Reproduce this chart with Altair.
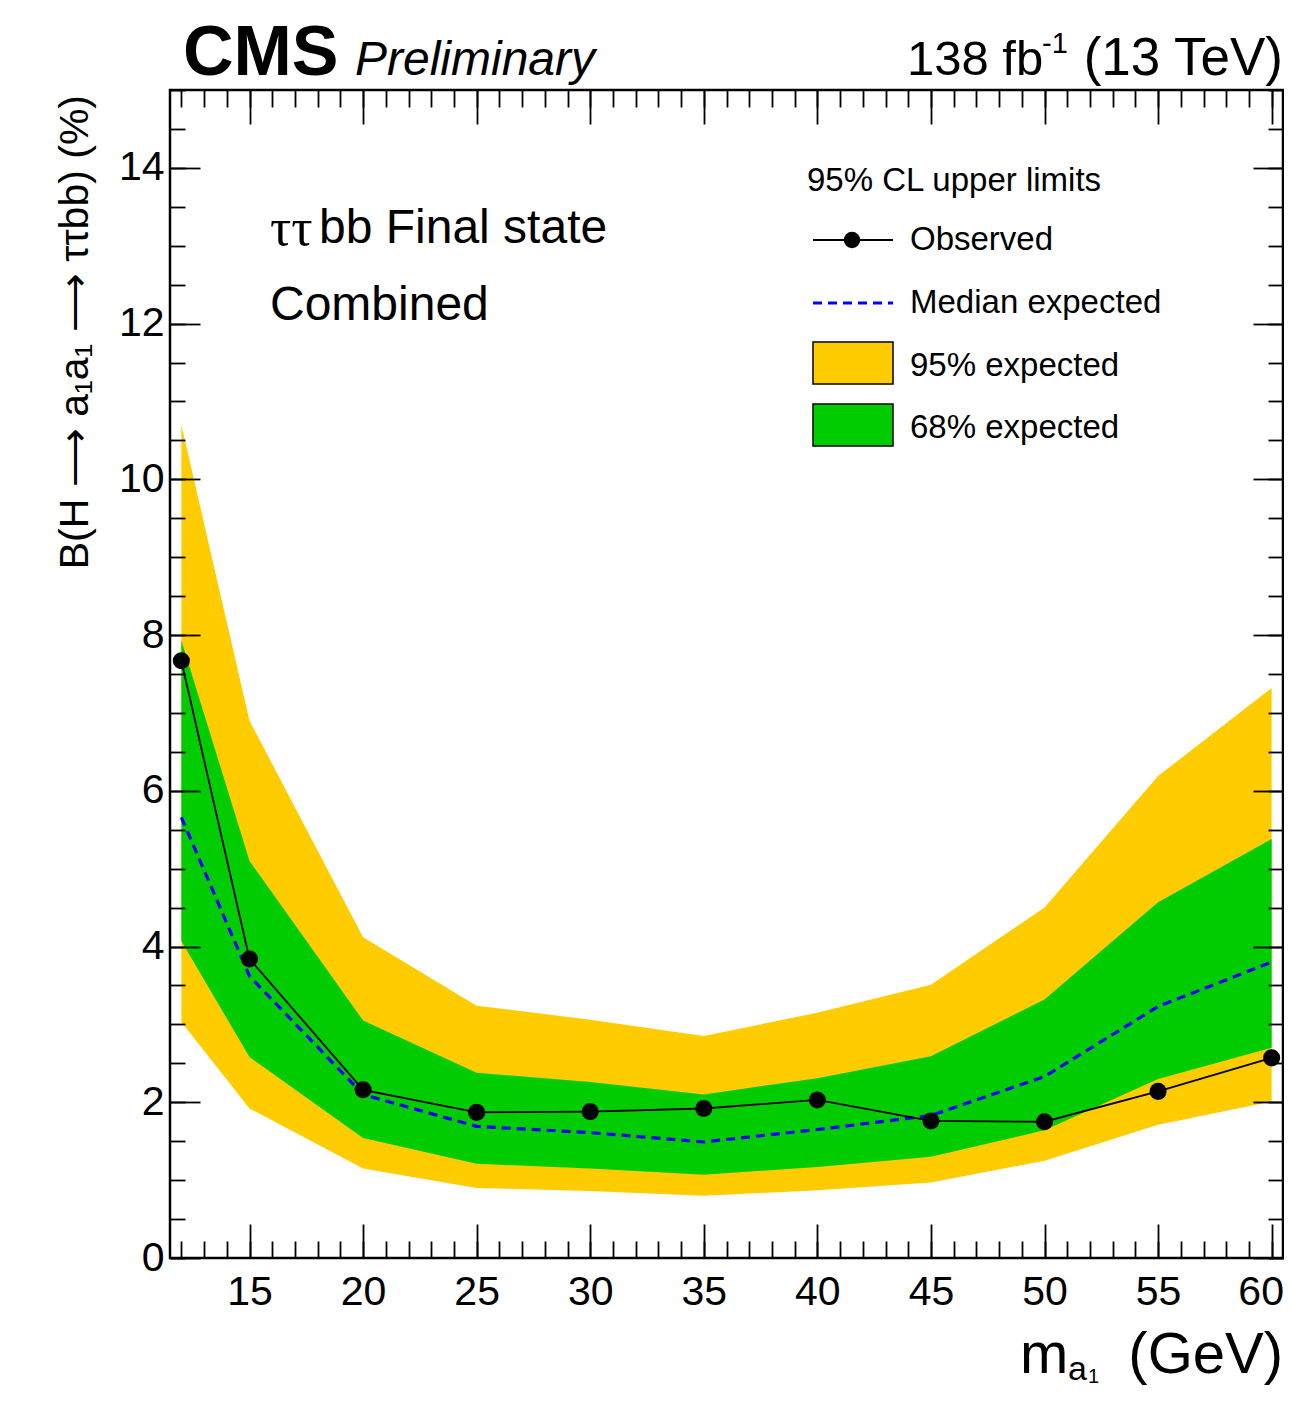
import altair as alt
import pandas as pd

# ---------------- data ----------------
mass = [12, 15, 20, 25, 30, 35, 40, 45, 50, 55, 60]
observed = [7.67, 3.84, 2.16, 1.87, 1.88, 1.92, 2.03, 1.76, 1.75, 2.14, 2.57]
expected = [5.66, 3.62, 2.10, 1.69, 1.61, 1.49, 1.65, 1.83, 2.33, 3.23, 3.80]
lo68 = [4.07, 2.58, 1.54, 1.21, 1.15, 1.07, 1.17, 1.30, 1.64, 2.30, 2.70]
hi68 = [7.93, 5.10, 3.05, 2.38, 2.26, 2.10, 2.31, 2.59, 3.32, 4.57, 5.38]
lo95 = [3.03, 1.92, 1.15, 0.90, 0.86, 0.80, 0.87, 0.97, 1.25, 1.71, 2.01]
hi95 = [10.70, 6.90, 4.12, 3.24, 3.06, 2.85, 3.15, 3.51, 4.50, 6.19, 7.32]

x_major = [15, 20, 25, 30, 35, 40, 45, 50, 55, 60]
x_minor = list(range(12, 61))
y_major = [0, 2, 4, 6, 8, 10, 12, 14]
y_minor = [i * 0.5 for i in range(0, 31)]

legend_labels = ["Observed", "Median expected", "95% expected", "68% expected"]

df = pd.DataFrame({
    "mass": mass, "obs": observed, "exp": expected,
    "lo68": lo68, "hi68": hi68, "lo95": lo95, "hi95": hi95,
})
ONE = pd.DataFrame({"k": [0]})

FONT = "Liberation Sans"
YELLOW = "#FFCC00"
GREEN = "#00CC00"
W, H = 1113, 1168

XS = alt.Scale(domain=[11.5, 60.5], nice=False, zero=False)
YS = alt.Scale(domain=[0, 15], nice=False, zero=False)


def X(field, axis=None):
    if axis is None:
        return alt.X(field, type="quantitative", scale=XS, axis=None)
    return alt.X(field, type="quantitative", scale=XS, axis=axis, title=None)


def Y(field, axis=None):
    if axis is None:
        return alt.Y(field, type="quantitative", scale=YS, axis=None)
    return alt.Y(field, type="quantitative", scale=YS, axis=axis, title=None)


def tick_axis(orient, values, size):
    return alt.Axis(orient=orient, values=values, ticks=True, tickSize=size,
                    offset=-size, tickColor="black", tickWidth=1.8, labels=False,
                    domain=False, grid=False, zindex=1)


def label_axis(orient, values, pad, **kw):
    return alt.Axis(orient=orient, values=values, ticks=False, tickSize=0,
                    domain=False, grid=False, labelFont=FONT, labelFontSize=41,
                    labelColor="black", labelPadding=pad, labelFlush=False,
                    labelOverlap=False, labelBound=False, format="d", **kw)


def axis_layer(xa, ya):
    return alt.Chart(df).mark_point(opacity=0).encode(x=X("mass", xa), y=Y("obs", ya))


def text(s, x, y, size, align="left", baseline="alphabetic", font=FONT, **kw):
    return alt.Chart(ONE).mark_text(text=s, font=font, fontSize=size, align=align,
                                    baseline=baseline, color="black", **kw).encode(
        x=alt.value(x), y=alt.value(y))


# ---------------- data layers ----------------
band95 = alt.Chart(df).mark_area(color=YELLOW, opacity=1).encode(
    x=X("mass"), y=Y("hi95"), y2="lo95")
band68 = alt.Chart(df).mark_area(color=GREEN, opacity=1).encode(
    x=X("mass"), y=Y("hi68"), y2="lo68")
median = alt.Chart(df).mark_line(color="#0000FF", strokeWidth=3.2, strokeDash=[9, 6]).encode(
    x=X("mass"), y=Y("exp"))
obs_line = alt.Chart(df).mark_line(color="black", strokeWidth=1.8).encode(
    x=X("mass"), y=Y("obs"))
obs_pts = alt.Chart(df).mark_point(filled=True, color="black", size=290, opacity=1).encode(
    x=X("mass"), y=Y("obs"))

# ---------------- axes (ROOT style: inside ticks on all four sides) ----------------
last_shift = {"condition": {"test": "datum.value == 60", "value": -11}, "value": 0}
axes = [
    axis_layer(label_axis("bottom", x_major, 14, labelOffset=last_shift),
               label_axis("left", y_major, 6)),
    axis_layer(tick_axis("bottom", x_major, 34), tick_axis("left", y_major, 30)),
    axis_layer(tick_axis("bottom", x_minor, 17), tick_axis("left", y_minor, 15)),
    axis_layer(tick_axis("top", x_major, 34), tick_axis("right", y_major, 30)),
    axis_layer(tick_axis("top", x_minor, 17), tick_axis("right", y_minor, 15)),
]

# ---------------- texts ----------------
texts = [
    text("CMS", 13, -15, 70, fontWeight="bold"),
    text("Preliminary", 185, -15, 48, fontStyle="italic"),
    text("138 fb", 737, -15, 49),
    text("-1", 872, -37, 29),
    text("(13 TeV)", W, -15, 53, align="right"),
    text("ττ", 100, 139, 53, baseline="middle", font="Liberation Serif"),
    text("bb Final state", 149, 139, 48, baseline="middle"),
    text("Combined", 100, 216, 48, baseline="middle"),
    # x title  m_{a_1} (GeV)
    text("m", 850, 1283, 58),
    text("a", 898, 1290, 34),
    text("1", 918, 1293, 20),
    text("(GeV)", W, 1283, 58, align="right"),
    # y title
    text("B(H ⟶ a₁a₁ ⟶ ττbb) (%)", -82, 5, 41, align="right", angle=270),
]

# ---------------- legend ----------------
LX0, LX1, LXM, LT = 643, 723, 682, 740
legend = [
    text("95% CL upper limits", 637, 91, 33, baseline="middle"),
    alt.Chart(ONE).mark_rule(color="black", strokeWidth=1.8).encode(
        x=alt.value(LX0), x2=alt.value(LX1), y=alt.value(150)),
    alt.Chart(ONE).mark_point(filled=True, color="black", size=270, opacity=1).encode(
        x=alt.value(LXM), y=alt.value(150)),
    text(legend_labels[0], LT, 150, 33, baseline="middle"),
    alt.Chart(ONE).mark_rule(color="#0000FF", strokeWidth=3.2, strokeDash=[9, 6]).encode(
        x=alt.value(LX0), x2=alt.value(LX1), y=alt.value(213)),
    text(legend_labels[1], LT, 213, 33, baseline="middle"),
    alt.Chart(ONE).mark_rect(fill=YELLOW, stroke="black", strokeWidth=1.5).encode(
        x=alt.value(LX0), x2=alt.value(LX1), y=alt.value(252), y2=alt.value(294)),
    text(legend_labels[2], LT, 276, 33, baseline="middle"),
    alt.Chart(ONE).mark_rect(fill=GREEN, stroke="black", strokeWidth=1.5).encode(
        x=alt.value(LX0), x2=alt.value(LX1), y=alt.value(314), y2=alt.value(356)),
    text(legend_labels[3], LT, 338, 33, baseline="middle"),
]

chart = alt.layer(
    band95, band68, median, obs_line, obs_pts, *axes, *texts, *legend
).resolve_axis(
    x="independent", y="independent"
).properties(
    width=W, height=H,
    autosize=alt.AutoSizeParams(type="none"),
    padding={"left": 162, "top": 82, "right": 1, "bottom": 132},
    background="white",
).configure_view(
    stroke="black", strokeWidth=2.5
)

chart.save("out.html", embed_options={"renderer": "svg", "actions": False})
